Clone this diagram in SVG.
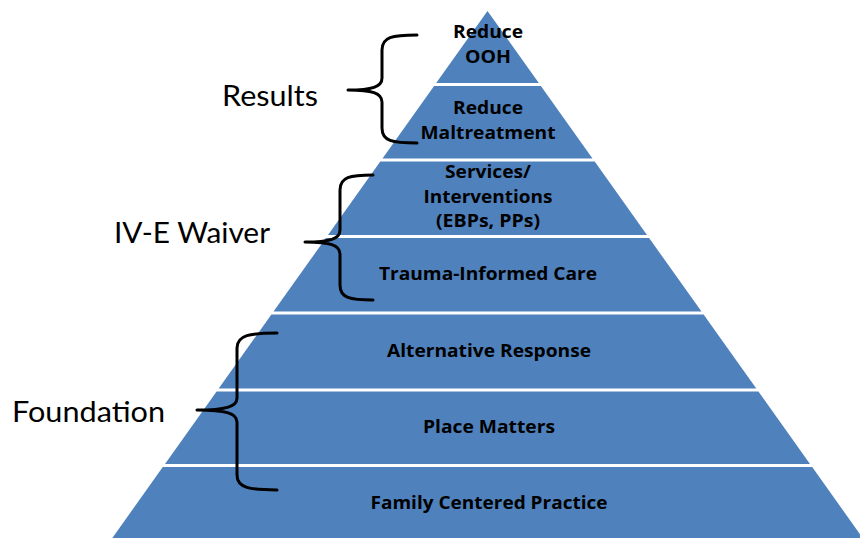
<svg xmlns="http://www.w3.org/2000/svg" width="860" height="538" viewBox="0 0 860 538">
  <style>
    .band { fill: #4F81BD; }
    .lbl { font-family: "Open Sans", Lato, "Liberation Sans", sans-serif; font-weight: bold; font-size: 17.5px; fill: #000; text-anchor: middle; }
    .side { font-family: Lato, "Open Sans", "Liberation Sans", sans-serif; font-size: 29.5px; fill: #000; }
    .brace { fill: none; stroke: #000; stroke-width: 3; stroke-linecap: round; stroke-linejoin: round; }
  </style>
  <rect width="860" height="538" fill="#fff"/>
  <g id="band-reduce-ooh">
    <polygon class="band" points="487.5,11 538.8,83 436.2,83"/>
    <text class="lbl" x="488" y="38" textLength="70" lengthAdjust="spacingAndGlyphs">Reduce</text>
    <text class="lbl" x="488" y="63" textLength="46" lengthAdjust="spacingAndGlyphs">OOH</text>
  </g>
  <g id="band-reduce-maltreatment">
    <polygon class="band" points="434.1,86 540.9,86 592.5,158.5 382.5,158.5"/>
    <text class="lbl" x="488" y="114" textLength="70" lengthAdjust="spacingAndGlyphs">Reduce</text>
    <text class="lbl" x="488" y="139" textLength="135" lengthAdjust="spacingAndGlyphs">Maltreatment</text>
  </g>
  <g id="band-services">
    <polygon class="band" points="380.3,161.5 594.7,161.5 647,235 328,235"/>
    <text class="lbl" x="488" y="178" textLength="86" lengthAdjust="spacingAndGlyphs">Services/</text>
    <text class="lbl" x="488" y="203" textLength="129" lengthAdjust="spacingAndGlyphs">Interventions</text>
    <text class="lbl" x="488" y="227" textLength="104" lengthAdjust="spacingAndGlyphs">(EBPs, PPs)</text>
  </g>
  <g id="band-trauma">
    <polygon class="band" points="325.9,238 649.1,238 701.5,311.5 273.5,311.5"/>
    <text class="lbl" x="488" y="280" textLength="218" lengthAdjust="spacingAndGlyphs">Trauma-Informed Care</text>
  </g>
  <g id="band-alternative">
    <polygon class="band" points="271.4,314.5 703.6,314.5 756.3,388.5 218.7,388.5"/>
    <text class="lbl" x="489" y="357" textLength="204" lengthAdjust="spacingAndGlyphs">Alternative Response</text>
  </g>
  <g id="band-place">
    <polygon class="band" points="216.6,391.5 758.4,391.5 810,464 165,464"/>
    <text class="lbl" x="489" y="433" textLength="132" lengthAdjust="spacingAndGlyphs">Place Matters</text>
  </g>
  <g id="band-family">
    <polygon class="band" points="162.8,467 812.2,467 864.1,540 110.9,540"/>
    <text class="lbl" x="489" y="509" textLength="237" lengthAdjust="spacingAndGlyphs">Family Centered Practice</text>
  </g>
  <g id="connectors">
    <path class="brace" d="M417,35 C392,35 382,37 382,50 L382,78 C382,87 372,90 348,90 C372,90 382,93 382,102 L382,128 C382,141 392,143 417,143"/>
    <path class="brace" d="M373,175 C350,175 340,177 340,190 L340,230 C340,239 330,242 305,242 C330,242 340,245 340,254 L340,285 C340,298 350,300 373,300"/>
    <path class="brace" d="M277,333 C250,333 237,335 237,348 L237,398 C237,407 225,410 197,410 C225,410 237,413 237,422 L237,475 C237,488 250,490 277,490"/>
  </g>
  <g id="label-results"><text class="side" x="222" y="106" textLength="96" lengthAdjust="spacingAndGlyphs">Results</text></g>
  <g id="label-ive"><text class="side" x="114" y="243" textLength="156" lengthAdjust="spacingAndGlyphs">IV-E Waiver</text></g>
  <g id="label-foundation"><text class="side" x="12" y="422" textLength="153" lengthAdjust="spacingAndGlyphs">Foundation</text></g>
</svg>
